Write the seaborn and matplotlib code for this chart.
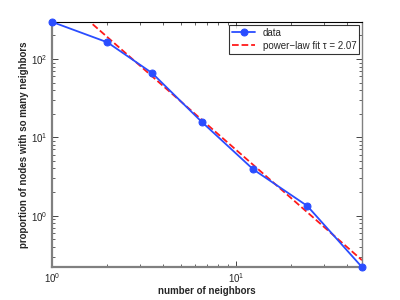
import numpy as np
import pandas as pd
import matplotlib
matplotlib.use('Agg')
import matplotlib.pyplot as plt
import seaborn as sns

# degree distribution
neighbors = [1.0, 2.0, 3.5, 6.5, 12.4, 24.4, 48.4]
proportion = [297, 163, 66, 15.8, 3.9, 1.33, 0.22]

# end points of the fitted power law line
fit_x = [1.0, 48.4]
fit_y = [790, 0.27]
tau = 2.07

sns.set_style('ticks')
plt.rcParams['font.family'] = ['Liberation Sans', 'DejaVu Sans']
plt.rcParams['xtick.direction'] = 'in'
plt.rcParams['ytick.direction'] = 'in'

fig = plt.figure(figsize=(4, 3), dpi=100)
ax = fig.add_axes([0.13, 0.11, 0.775, 0.817])

df = pd.DataFrame({'x': neighbors, 'y': proportion})
sns.lineplot(data=df, x='x', y='y', ax=ax, color='#2a4dff', marker='o',
             markersize=5, markeredgecolor='#2a4dff', linewidth=1.3,
             label='data', clip_on=False, zorder=3)
sns.lineplot(x=fit_x, y=fit_y, ax=ax, color='#ff1a1a', linestyle='--',
             linewidth=1.3, label='power\u2212law fit \u03c4 = %.2f' % tau)

ax.set_xscale('log')
ax.set_yscale('log')
ax.set_xlim(1, 48.4)
ax.set_ylim(0.221, 297)

ax.set_xlabel('number of neighbors', fontsize=7, fontweight='bold', labelpad=1)
ax.set_ylabel('proportion of nodes with so many neighbors', fontsize=7,
              fontweight='bold', labelpad=2)
ax.tick_params(axis='both', which='major', labelsize=7, length=4, width=0.6,
               top=True, right=True, pad=3)
ax.tick_params(axis='both', which='minor', length=2, width=0.5,
               top=True, right=True)

for side in ['left', 'bottom']:
    ax.spines[side].set_color('#808080')
    ax.spines[side].set_linewidth(1.6)
ax.spines['right'].set_color('#808080')
ax.spines['right'].set_linewidth(1.0)
ax.spines['top'].set_color('black')
ax.spines['top'].set_linewidth(0.8)

leg = ax.legend(loc='upper right', fontsize=7, frameon=True, fancybox=False,
                borderpad=0.3, handlelength=2.3, labelspacing=0.3,
                borderaxespad=0.3)
leg.get_frame().set_edgecolor('black')
leg.get_frame().set_linewidth(0.8)

fig.savefig('out.png', dpi=100)
